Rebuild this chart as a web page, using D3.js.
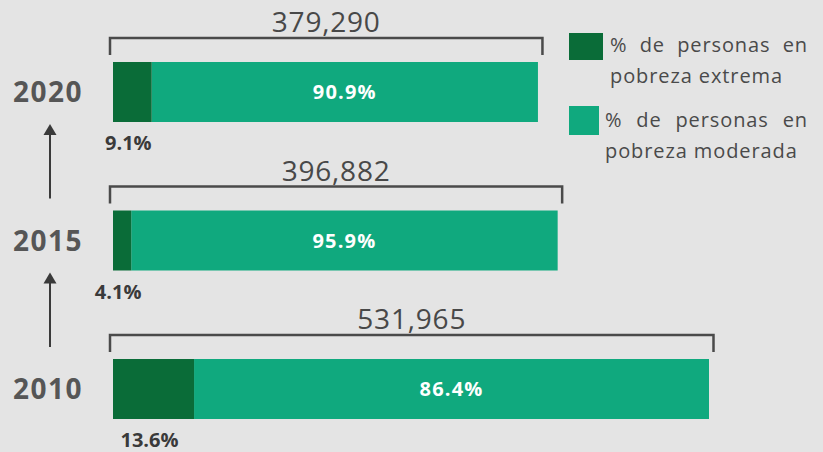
<!DOCTYPE html>
<html>
<head>
<meta charset="utf-8">
<script src="https://cdn.jsdelivr.net/npm/d3@7"></script>
<style>
  html, body { margin: 0; padding: 0; background: #e4e4e4; }
  svg { display: block; font-family: "Open Sans", sans-serif; }
</style>
</head>
<body>
<svg id="chart" width="823" height="452"></svg>
<script>
// ---- data ----
const years = ["2020", "2015", "2010"];
const totals = [379290, 396882, 531965];
const extremePct = [9.1, 4.1, 13.6];
const moderatePct = [90.9, 95.9, 86.4];
const legendLabels = [["% de personas en", "pobreza extrema"], ["% de personas en", "pobreza moderada"]];

const colors = { extreme: "#0a6c38", moderate: "#10a97e", text: "#565656", dark: "#3a3a3a", line: "#4a4a4a" };

const svg = d3.select("#chart");
svg.append("rect").attr("width", 823).attr("height", 452).attr("fill", "#e4e4e4");

const x = d3.scaleLinear().domain([0, 531965]).range([113, 709]);
const y = d3.scalePoint().domain(years).range([92, 389]);
const barH = 60;
const fmt = d3.format(",");
const pfmt = d3.format(".1f");

const data = years.map((yr, i) => ({
  year: yr, total: totals[i], ext: extremePct[i], mod: moderatePct[i]
}));

const g = svg.append("g");

data.forEach(d => {
  const top = y(d.year) - barH / 2;
  const bottom = top + barH;
  const extEnd = x(d.total * d.ext / 100);
  const end = x(d.total);

  g.append("rect").attr("x", extEnd).attr("y", top)
    .attr("width", end - extEnd).attr("height", barH).attr("fill", colors.moderate);
  g.append("rect").attr("x", x(0)).attr("y", top)
    .attr("width", extEnd - x(0)).attr("height", barH).attr("fill", colors.extreme);

  const by = top - 24;
  g.append("path")
    .attr("d", `M${x(0) - 3},${top - 7} V${by} H${end + 4.5} V${top - 7}`)
    .attr("fill", "none").attr("stroke", colors.line).attr("stroke-width", 2.5);

  g.append("text").attr("x", (x(0) - 3 + end + 4.5) / 2).attr("y", top - 30)
    .attr("text-anchor", "middle").attr("font-size", 28).attr("font-weight", 500).attr("letter-spacing", 0.8)
    .attr("fill", "#484848").text(fmt(d.total));

  g.append("text").attr("x", (extEnd + end) / 2).attr("y", y(d.year) + 7)
    .attr("text-anchor", "middle").attr("font-size", 20).attr("font-weight", 700)
    .attr("letter-spacing", 1.2).attr("fill", "#ffffff").text(pfmt(d.mod) + "%");

  g.append("text").attr("x", (x(0) + extEnd) / 2 - 4).attr("y", bottom + 28)
    .attr("text-anchor", "middle").attr("font-size", 20).attr("font-weight", 700)
    .attr("fill", colors.dark).text(pfmt(d.ext) + "%");

  g.append("text").attr("x", 48).attr("y", y(d.year) + 10)
    .attr("text-anchor", "middle").attr("font-size", 28).attr("font-weight", 700)
    .attr("letter-spacing", 1.5).attr("fill", colors.text).text(d.year);
});

for (let i = 0; i < years.length - 1; i++) {
  const tipY = y(years[i]) + 32;
  const baseY = y(years[i + 1]) - 42;
  g.append("line").attr("x1", 50).attr("x2", 50).attr("y1", baseY).attr("y2", tipY + 8)
    .attr("stroke", colors.dark).attr("stroke-width", 2);
  g.append("path").attr("d", `M50,${tipY} L43.5,${tipY + 11} L56.5,${tipY + 11} Z`).attr("fill", colors.dark);
}

// legend
const legend = svg.append("g");
const legendItems = [
  { color: colors.extreme, sx: 569, sy: 33, sw: 34, sh: 27, tx: 610, ty: 52, lines: legendLabels[0], right: 808 },
  { color: colors.moderate, sx: 569, sy: 106, sw: 30, sh: 29, tx: 605, ty: 127, lines: legendLabels[1], right: 808 }
];
legendItems.forEach(it => {
  legend.append("rect").attr("x", it.sx).attr("y", it.sy).attr("width", it.sw).attr("height", it.sh).attr("fill", it.color);
  it.lines.forEach((ln, j) => {
    const t = legend.append("text").attr("x", it.tx).attr("y", it.ty + j * 31)
      .attr("font-size", 20).attr("letter-spacing", 0.9).attr("fill", "#4a4a4a").text(ln);
    if (j === 0) {
      // justify: spread extra space between words
      const w = t.node().getComputedTextLength();
      const gaps = ln.split(" ").length - 1;
      const extra = (it.right - it.tx - w) / gaps;
      if (extra > 0) t.attr("word-spacing", extra);
    }
  });
});
</script>
</body>
</html>
